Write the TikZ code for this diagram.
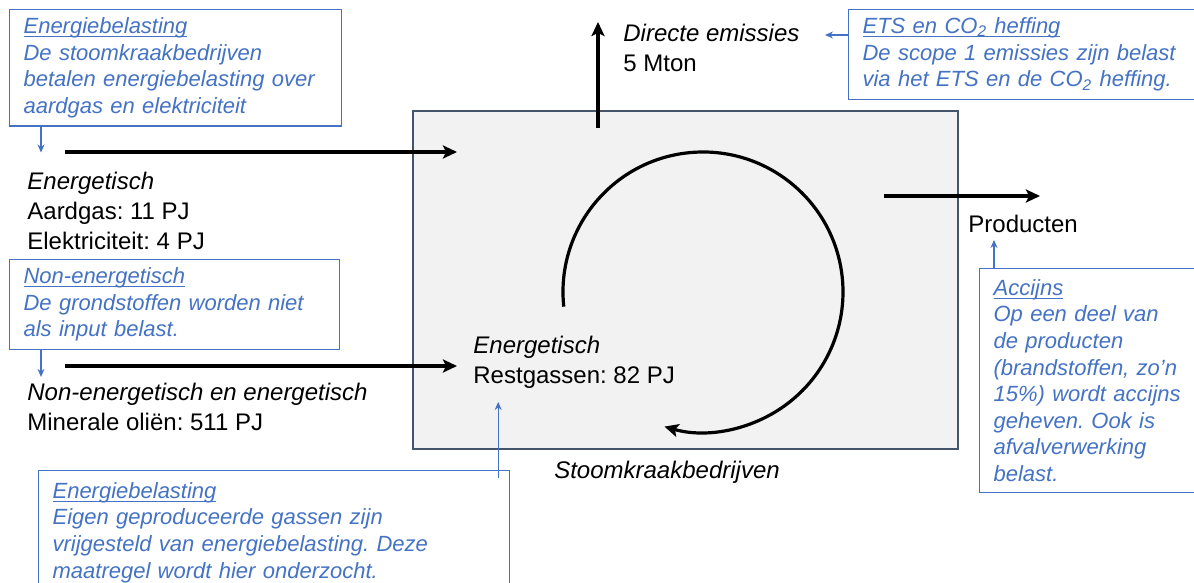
\documentclass[tikz,border=0pt]{standalone}
\usepackage{fontspec}
\setmainfont{Liberation Sans}
\usetikzlibrary{positioning, arrows.meta}
\definecolor{note_blue}{RGB}{68, 114, 196}
\definecolor{plant_edge}{RGB}{68, 84, 106}
\definecolor{plant_fill}{RGB}{242, 242, 242}
\newcommand{\notetitle}[1]{\underline{\raisebox{0pt}[\height][0pt]{#1}}}
\frenchspacing

\begin{document}
\begin{tikzpicture}[x=0.5pt, y=-0.5pt, >=Stealth,
      txt/.style={font=\fontsize{12}{15}\selectfont, align=left, inner sep=0pt, anchor=north west},
      note/.style={draw=note_blue, text=note_blue, line width=0.6pt, font=\fontsize{11}{13.3}\selectfont\itshape,
                   align=left, inner xsep=7pt, inner ysep=4pt, anchor=north west},
      flow/.style={-{Stealth[length=7pt, width=6.5pt, inset=1.5pt]}, line width=1.6pt},
      link/.style={-{Stealth[length=4pt, width=3.5pt]}, draw=note_blue, line width=0.6pt},
      plant/.style={draw=plant_edge, fill=plant_fill, line width=0.8pt, minimum width=272.5pt, minimum height=169pt}]
    \useasboundingbox (0,0) rectangle (1194,583);
    % installatie
    \node[plant] (kraak) at (685.5,280) {};
    \node[font=\fontsize{12}{15}\selectfont\itshape] (kraakLbl) at (667,472) {Stoomkraakbedrijven};
    % stromen
    \node[txt] (gas)  at (27,172)  {\textit{Energetisch}\\Aardgas: 11 PJ\\Elektriciteit: 4 PJ};
    \node[txt] (olie) at (27,383)  {\textit{Non-energetisch en energetisch}\\Minerale oliën: 511 PJ};
    \node[txt] (rest) at (473,336) {\textit{Energetisch}\\Restgassen: 82 PJ};
    \node[txt] (emis) at (623,24)  {\textit{Directe emissies}\\5 Mton};
    \node[txt] (prod) at (968,215) {Producten};
    % belastingen
    \node[note, text width=152pt] (ebTop) at (9,9) {\notetitle{Energiebelasting}\\De stoomkraakbedrijven\\betalen energiebelasting over\\aardgas en elektriciteit};
    \node[note, text width=151pt] (nonE) at (9,259) {\notetitle{Non-energetisch}\\De grondstoffen worden niet\\als input belast.};
    \node[note, text width=221.5pt, minimum height=62pt] (ebBot) at (38,470) {\notetitle{Energiebelasting}\\Eigen geproduceerde gassen zijn\\vrijgesteld van energiebelasting. Deze\\maatregel wordt hier onderzocht.};
    \node[note, text width=190pt] (ets) at (848,9) {\notetitle{ETS en CO\textsubscript{2} heffing}\\De scope 1 emissies zijn belast\\via het ETS en de CO\textsubscript{2} heffing.};
    \node[note, text width=110pt, minimum height=112pt] (accijns) at (979,268) {\notetitle{Accijns}\\Op een deel van\\de producten\\(brandstoffen, zo’n\\15\%) wordt accijns\\geheven. Ook is\\afvalverwerking\\belast.};

    \coordinate (gasTail)  at (65,152);  \coordinate (gasHead)  at (457,152);
    \coordinate (olieTail) at (65,366);  \coordinate (olieHead) at (457,366);
    \coordinate (emisTail) at (598,128); \coordinate (emisHead) at (598,22);
    \coordinate (prodTail) at (884,196); \coordinate (prodHead) at (1040,196);
    \coordinate (loop) at (703,292);

    \draw[flow] (gasTail) -- (gasHead);
    \draw[flow] (olieTail) -- (olieHead);
    \draw[flow] (emisTail) -- (emisHead);
    \draw[flow] (prodTail) -- (prodHead);
    \draw[flow] (loop) ++(-186:140) arc[start angle=-186, end angle=106, radius=140];

    \draw[link] (ebTop.south west) ++(32,0) -- ++(0,26);
    \draw[link] (nonE.south west) ++(32,0) -- ++(0,27);
    \draw[link] (ets.north west) ++(0,26) -- ++(-23,0);
    \draw[link] (accijns.north west) ++(15,0) -- ++(0,-28);
    \draw[link] (ebBot.north east) ++(-12,8) -- ++(0,-76);
  \end{tikzpicture}
\end{document}
